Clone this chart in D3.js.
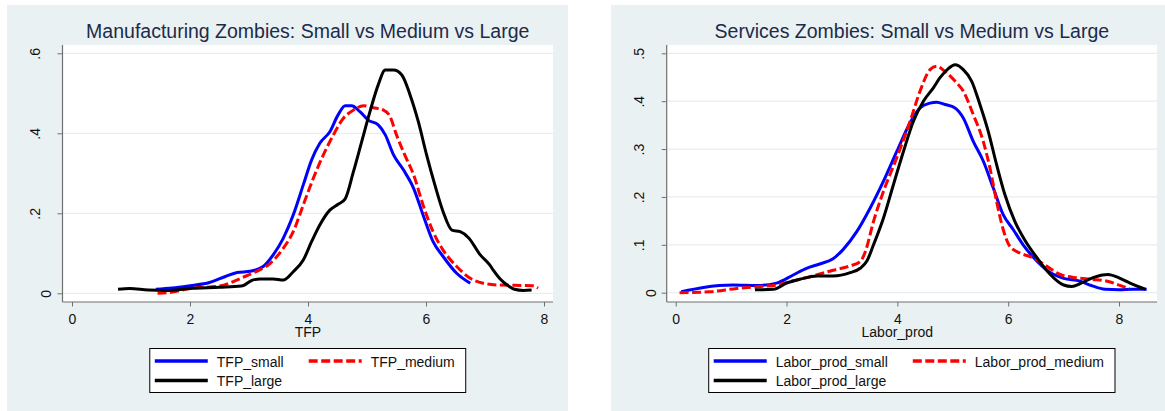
<!DOCTYPE html>
<html>
<head>
<meta charset="utf-8">
<script src="https://cdn.jsdelivr.net/npm/d3@7"></script>
<style>
  html, body { margin: 0; padding: 0; background: #ffffff; }
  svg { display: block; font-family: "Liberation Sans", Arial, sans-serif; }
</style>
</head>
<body>
<svg id="chart" width="1165" height="411"></svg>
<script>
// ---------------- DATA ----------------
const xTicks = [0, 2, 4, 6, 8];
const leftYTicks = [0, 0.2, 0.4, 0.6];
const leftYLabels = ["0", ".2", ".4", ".6"];
const rightYTicks = [0, 0.1, 0.2, 0.3, 0.4, 0.5];
const rightYLabels = ["0", ".1", ".2", ".3", ".4", ".5"];

const leftTitle = "Manufacturing Zombies: Small vs Medium vs Large";
const rightTitle = "Services Zombies: Small vs Medium vs Large";
const leftXTitle = "TFP";
const rightXTitle = "Labor_prod";
const leftSeriesNames = ["TFP_small", "TFP_medium", "TFP_large"];
const rightSeriesNames = ["Labor_prod_small", "Labor_prod_medium", "Labor_prod_large"];

const tfpSmall = [[1.42,0.010],[1.7,0.013],[2.0,0.019],[2.33,0.027],[2.6,0.042],[2.8,0.052],[3.02,0.055],
  [3.24,0.067],[3.41,0.096],[3.58,0.1375],[3.75,0.196],[3.92,0.271],[4.06,0.333],[4.2,0.375],[4.37,0.404],
  [4.51,0.446],[4.63,0.469],[4.74,0.469],[4.88,0.454],[5.02,0.433],[5.19,0.421],[5.31,0.396],[5.45,0.346],
  [5.62,0.308],[5.79,0.2625],[5.95,0.196],[6.12,0.129],[6.29,0.092],[6.52,0.05],[6.75,0.025]];
const tfpMedium = [[1.45,0.0],[1.7,0.003],[2.0,0.012],[2.5,0.018],[2.93,0.042],[3.1,0.053],[3.36,0.075],
  [3.58,0.1125],[3.75,0.154],[3.92,0.221],[4.09,0.2875],[4.26,0.346],[4.43,0.396],[4.6,0.4375],[4.77,0.458],
  [4.94,0.469],[5.11,0.464],[5.28,0.458],[5.39,0.442],[5.5,0.396],[5.64,0.346],[5.79,0.296],[5.95,0.221],
  [6.12,0.154],[6.29,0.108],[6.52,0.067],[6.75,0.0375],[6.97,0.025],[7.2,0.021],[7.5,0.02],[7.8,0.019],[7.9,0.013]];
const tfpLarge = [[0.78,0.010],[0.98,0.012],[1.29,0.008],[1.6,0.007],[2.0,0.012],[2.5,0.015],[2.87,0.018],
  [3.06,0.033],[3.19,0.036],[3.41,0.036],[3.58,0.033],[3.75,0.054],[3.92,0.083],[4.06,0.129],[4.2,0.171],
  [4.37,0.208],[4.51,0.2225],[4.63,0.236],[4.77,0.304],[4.91,0.379],[5.05,0.454],[5.19,0.521],[5.31,0.558],
  [5.45,0.558],[5.59,0.546],[5.73,0.496],[5.87,0.429],[6.01,0.346],[6.15,0.271],[6.29,0.204],[6.44,0.158],
  [6.58,0.154],[6.72,0.139],[6.92,0.096],[7.08,0.071],[7.14,0.058],[7.25,0.037],[7.4,0.018],[7.5,0.01],
  [7.65,0.007],[7.79,0.008]];

const lpSmall = [[0.1,0.002],[0.5,0.011],[1.04,0.016],[1.46,0.015],[1.82,0.02],[2.12,0.037],[2.36,0.051],
  [2.6,0.06],[2.84,0.071],[3.02,0.09],[3.27,0.128],[3.51,0.177],[3.75,0.233],[3.99,0.295],[4.23,0.355],
  [4.41,0.386],[4.59,0.396],[4.71,0.398],[4.86,0.393],[5.04,0.386],[5.19,0.365],[5.37,0.316],[5.55,0.275],
  [5.73,0.219],[5.91,0.163],[6.09,0.132],[6.27,0.1],[6.52,0.066],[6.76,0.042],[7.0,0.03],[7.3,0.024],
  [7.5,0.015],[7.75,0.007],[8.0,0.006],[8.25,0.007],[8.5,0.007]];
const lpMedium = [[0.07,0.0],[0.62,0.002],[1.1,0.009],[1.52,0.013],[1.82,0.016],[2.12,0.025],[2.48,0.035],
  [2.84,0.047],[3.15,0.056],[3.33,0.065],[3.42,0.085],[3.57,0.149],[3.75,0.212],[3.99,0.282],[4.23,0.358],
  [4.41,0.421],[4.59,0.466],[4.71,0.473],[4.86,0.462],[5.04,0.442],[5.19,0.421],[5.37,0.372],[5.55,0.316],
  [5.67,0.261],[5.79,0.191],[5.91,0.132],[6.03,0.097],[6.21,0.083],[6.45,0.073],[6.7,0.055],[6.94,0.038],
  [7.24,0.031],[7.5,0.028],[7.79,0.024],[8.0,0.016],[8.19,0.008]];
const lpLarge = [[1.43,0.006],[1.76,0.007],[2.0,0.02],[2.24,0.028],[2.55,0.035],[2.84,0.035],[3.15,0.042],
  [3.33,0.051],[3.45,0.066],[3.57,0.1],[3.75,0.156],[3.93,0.226],[4.11,0.295],[4.29,0.358],[4.47,0.4],
  [4.65,0.428],[4.77,0.449],[4.92,0.468],[5.04,0.476],[5.19,0.466],[5.34,0.442],[5.49,0.393],[5.64,0.337],
  [5.79,0.268],[5.94,0.205],[6.12,0.149],[6.31,0.108],[6.52,0.073],[6.76,0.038],[7.0,0.016],[7.15,0.013],
  [7.3,0.019],[7.5,0.03],[7.7,0.037],[7.8,0.038],[8.0,0.031],[8.2,0.02],[8.48,0.007]];

// ---------------- STYLE ----------------
const BG = "#EAF1F3";
const GRID = "#E6EEF1";
const AXIS = "#6f6f6f";
const TITLE = "#1C2B4A";
const seriesStyles = [
  { color: "#0000FF", dash: null },
  { color: "#FF0000", dash: "9,3.5" },
  { color: "#000000", dash: null }
];

const svg = d3.select("#chart");

function panel(cfg) {
  const g = svg.append("g");
  // panel background
  g.append("rect").attr("x", cfg.bx).attr("y", 5).attr("width", cfg.bw).attr("height", 406).attr("fill", BG);
  // plot region
  const L = cfg.pl, R = cfg.pr, T = 45, B = 302;
  g.append("rect").attr("x", L).attr("y", T).attr("width", R - L).attr("height", B - T).attr("fill", "#ffffff");

  const x = d3.scaleLinear().domain([0, 8]).range(cfg.xr);
  const y = d3.scaleLinear().domain([0, cfg.ymax]).range(cfg.yr);

  // gridlines
  g.selectAll("line.grid").data(cfg.yTicks).enter().append("line")
    .attr("x1", L + 1).attr("x2", R).attr("y1", d => y(d)).attr("y2", d => y(d))
    .attr("stroke", GRID).attr("stroke-width", 1.3);

  // curves
  const line = d3.line().x(d => x(d[0])).y(d => y(d[1])).curve(d3.curveMonotoneX);
  cfg.series.forEach((s, i) => {
    const st = seriesStyles[i];
    g.append("path").datum(s).attr("d", line).attr("fill", "none")
      .attr("stroke", st.color).attr("stroke-width", 3)
      .attr("stroke-linejoin", "round")
      .attr("stroke-dasharray", st.dash);
  });

  // x axis
  const xa = g.append("g").attr("transform", `translate(0,${B})`)
    .call(d3.axisBottom(x).tickValues(xTicks).tickSize(4.5).tickPadding(8).tickFormat(d3.format("d")));
  xa.select(".domain").remove();
  xa.selectAll(".tick line").attr("stroke", AXIS);
  xa.selectAll(".tick text").attr("font-size", 14).attr("fill", "#111").attr("font-family", null);
  g.append("line").attr("x1", L).attr("x2", R).attr("y1", B).attr("y2", B)
    .attr("stroke", AXIS).attr("stroke-width", 1.2);

  // y axis
  const ya = g.append("g").attr("transform", `translate(${L},0)`)
    .call(d3.axisLeft(y).tickValues(cfg.yTicks).tickSize(5).tickFormat((d, i) => cfg.yLabels[i]));
  ya.select(".domain").remove();
  ya.selectAll(".tick line").attr("stroke", AXIS);
  ya.selectAll(".tick text")
    .attr("x", 0).attr("dy", "0.35em").attr("text-anchor", "middle")
    .attr("transform", d => `translate(${d === 0 ? -16 : -27.5},0) rotate(-90)`)
    .attr("font-size", 14).attr("fill", "#111").attr("font-family", null);
  g.append("line").attr("x1", L).attr("x2", L).attr("y1", T).attr("y2", B)
    .attr("stroke", AXIS).attr("stroke-width", 1.2);

  const cx = (L + R) / 2;
  // title
  g.append("text").attr("x", cx).attr("y", 37.5).attr("text-anchor", "middle")
    .attr("font-size", 19.5).attr("fill", TITLE).text(cfg.title);
  // x title
  g.append("text").attr("x", x(4)).attr("y", 337).attr("text-anchor", "middle")
    .attr("font-size", 14).attr("fill", "#111").text(cfg.xTitle);

  // legend
  const lg = g.append("g");
  const names = cfg.names;
  const tmp = lg.append("text").attr("font-size", 14);
  const w = names.map(n => { tmp.text(n); return tmp.node().getComputedTextLength(); });
  tmp.remove();
  const lineLen = 53, gapT = 9, pad = 5, colGap = 25, padR = 11;
  const w1 = Math.max(w[0], w[2]);
  const boxW = pad + lineLen + gapT + w1 + colGap + lineLen + gapT + w[1] + padR;
  const bx = cx - boxW / 2;
  lg.append("rect").attr("x", bx).attr("y", 348.5).attr("width", boxW).attr("height", 44)
    .attr("fill", "#ffffff").attr("stroke", "#000").attr("stroke-width", 1);
  const pos = [
    { lx: bx + pad, ly: 361, ty: 367 },
    { lx: bx + pad + lineLen + gapT + w1 + colGap, ly: 361, ty: 367 },
    { lx: bx + pad, ly: 380.5, ty: 386 }
  ];
  names.forEach((n, i) => {
    const st = seriesStyles[i], p = pos[i];
    lg.append("line").attr("x1", p.lx).attr("x2", p.lx + lineLen).attr("y1", p.ly).attr("y2", p.ly)
      .attr("stroke", st.color).attr("stroke-width", 3.3).attr("stroke-dasharray", st.dash);
    lg.append("text").attr("x", p.lx + lineLen + gapT).attr("y", p.ty)
      .attr("font-size", 14).attr("fill", "#111").text(n);
  });
}

panel({
  bx: 7, bw: 561, pl: 62.5, pr: 553,
  xr: [72, 544], ymax: 0.6, yr: [293.3, 53.3],
  yTicks: leftYTicks, yLabels: leftYLabels,
  series: [tfpSmall, tfpMedium, tfpLarge],
  title: leftTitle, xTitle: leftXTitle, names: leftSeriesNames
});
panel({
  bx: 611, bw: 554, pl: 666.7, pr: 1157,
  xr: [675.7, 1119], ymax: 0.5, yr: [292.7, 53.3],
  yTicks: rightYTicks, yLabels: rightYLabels,
  series: [lpSmall, lpMedium, lpLarge],
  title: rightTitle, xTitle: rightXTitle, names: rightSeriesNames
});
</script>
</body>
</html>
